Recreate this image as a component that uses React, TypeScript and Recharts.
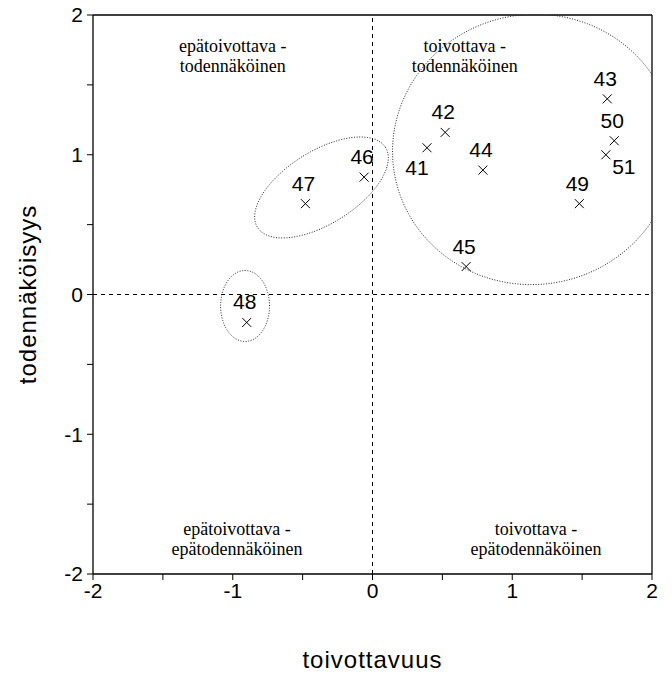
import { ReferenceLine, Scatter, ScatterChart, XAxis, YAxis } from "recharts";

// scenario positions: x = toivottavuus, y = todennäköisyys
const ids = ["41", "42", "43", "44", "45", "46", "47", "48", "49", "50", "51"];
const xValues = [0.39, 0.52, 1.68, 0.79, 0.67, -0.06, -0.48, -0.9, 1.48, 1.73, 1.67];
const yValues = [1.05, 1.16, 1.4, 0.89, 0.2, 0.84, 0.65, -0.2, 0.65, 1.1, 1.0];

const axisTicks = [-2, -1.5, -1, -0.5, 0, 0.5, 1, 1.5, 2];

const quadrantNames = [
  ["epätoivottava -", "todennäköinen"],
  ["toivottava -", "todennäköinen"],
  ["epätoivottava -", "epätodennäköinen"],
  ["toivottava -", "epätodennäköinen"],
];
const quadrantX = [-1.0, 0.66, -0.97, 1.17];
const quadrantY = [1.71, 1.71, -1.753, -1.753];

// group outlines: centre, semi-axes (data units), rotation in degrees
const groupCx = [1.152, -0.365, -0.912];
const groupCy = [1.038, 0.766, -0.082];
const groupRx = [1.01, 0.54, 0.175];
const groupRy = [0.966, 0.26, 0.254];
const groupAngle = [10, 32, 0];

const points = ids.map((id, i) => ({ id, x: xValues[i], y: yValues[i] }));
const quadrants = quadrantNames.map((lines, i) => ({ lines, x: quadrantX[i], y: quadrantY[i] }));

function outline(i: number) {
  const pts: { x: number; y: number }[] = [];
  const a = (groupAngle[i] * Math.PI) / 180;
  for (let k = 0; k <= 180; k++) {
    const t = (k / 180) * Math.PI * 2;
    const u = groupRx[i] * Math.cos(t);
    const v = groupRy[i] * Math.sin(t);
    pts.push({ x: groupCx[i] + u * Math.cos(a) - v * Math.sin(a), y: groupCy[i] + u * Math.sin(a) + v * Math.cos(a) });
  }
  return pts;
}

const sans = "'Liberation Sans', Arial, sans-serif";
const serif = "'Liberation Serif', 'Times New Roman', serif";

// where the number sits relative to its cross (pixels)
const labelOffset: Record<string, [number, number]> = {
  "41": [-10, 27],
  "51": [18, 19],
};

function Cross(props: any) {
  const { cx, cy, payload } = props;
  const [dx, dy] = labelOffset[payload.id] ?? [-2, -13];
  return (
    <g>
      <line x1={cx - 4.5} y1={cy - 4.5} x2={cx + 4.5} y2={cy + 4.5} stroke="#000" strokeWidth={1} />
      <line x1={cx - 4.5} y1={cy + 4.5} x2={cx + 4.5} y2={cy - 4.5} stroke="#000" strokeWidth={1} />
      <text x={cx + dx} y={cy + dy} textAnchor="middle" fontFamily={sans} fontSize={21} fill="#000">
        {payload.id}
      </text>
    </g>
  );
}

function QuadrantText(props: any) {
  const { cx, cy, payload } = props;
  return (
    <text textAnchor="middle" fontFamily={serif} fontSize={18} fill="#000">
      <tspan x={cx} y={cy - 4}>{payload.lines[0]}</tspan>
      <tspan x={cx} y={cy + 16}>{payload.lines[1]}</tspan>
    </text>
  );
}

const tickStyle = { fill: "#000", fontSize: 21, fontFamily: sans };
const fmt = (v: number) => (Number.isInteger(v) ? String(v) : "");

export default function App() {
  return (
    <div style={{ position: "absolute", left: 0, top: 0, background: "#fff" }}>
      <ScatterChart width={672} height={677} margin={{ top: 15, right: 20, bottom: 0, left: 0 }}>
        <XAxis
          type="number"
          dataKey="x"
          domain={[-2, 2]}
          ticks={axisTicks}
          interval={0}
          allowDataOverflow
          tickFormatter={fmt}
          tick={tickStyle}
          tickSize={6}
          tickMargin={3}
          height={103}
          axisLine={{ stroke: "#000", strokeWidth: 1.3 }}
          tickLine={{ stroke: "#000" }}
          label={{ value: "toivottavuus", position: "insideBottom", offset: 9, fill: "#000", fontSize: 24, fontFamily: sans, letterSpacing: 1 }}
        />
        <YAxis
          type="number"
          dataKey="y"
          domain={[-2, 2]}
          ticks={axisTicks}
          interval={0}
          allowDataOverflow
          tickFormatter={fmt}
          tick={tickStyle}
          tickSize={6}
          tickMargin={4}
          width={93}
          axisLine={{ stroke: "#000", strokeWidth: 1.3 }}
          tickLine={{ stroke: "#000" }}
          label={{
            value: "todennäköisyys",
            angle: -90,
            position: "insideLeft",
            offset: 27,
            fill: "#000",
            fontSize: 24,
            fontFamily: sans,
            letterSpacing: 1,
            style: { textAnchor: "middle" },
          }}
        />
        <ReferenceLine x={0} stroke="#000" strokeWidth={1} strokeDasharray="4 4" />
        <ReferenceLine y={0} stroke="#000" strokeWidth={1} strokeDasharray="4 4" />
        <ReferenceLine x={2} stroke="#000" strokeWidth={1.3} />
        <ReferenceLine y={2} stroke="#000" strokeWidth={1.3} />
        {groupCx.map((_, i) => (
          <Scatter
            key={"g" + i}
            data={outline(i)}
            line={{ stroke: "#222", strokeWidth: 1, strokeDasharray: "1 1.6" }}
            lineType="joint"
            shape={() => <g />}
            isAnimationActive={false}
          />
        ))}
        <Scatter data={quadrants} shape={QuadrantText} isAnimationActive={false} />
        <Scatter data={points} shape={Cross} isAnimationActive={false} />
      </ScatterChart>
    </div>
  );
}
